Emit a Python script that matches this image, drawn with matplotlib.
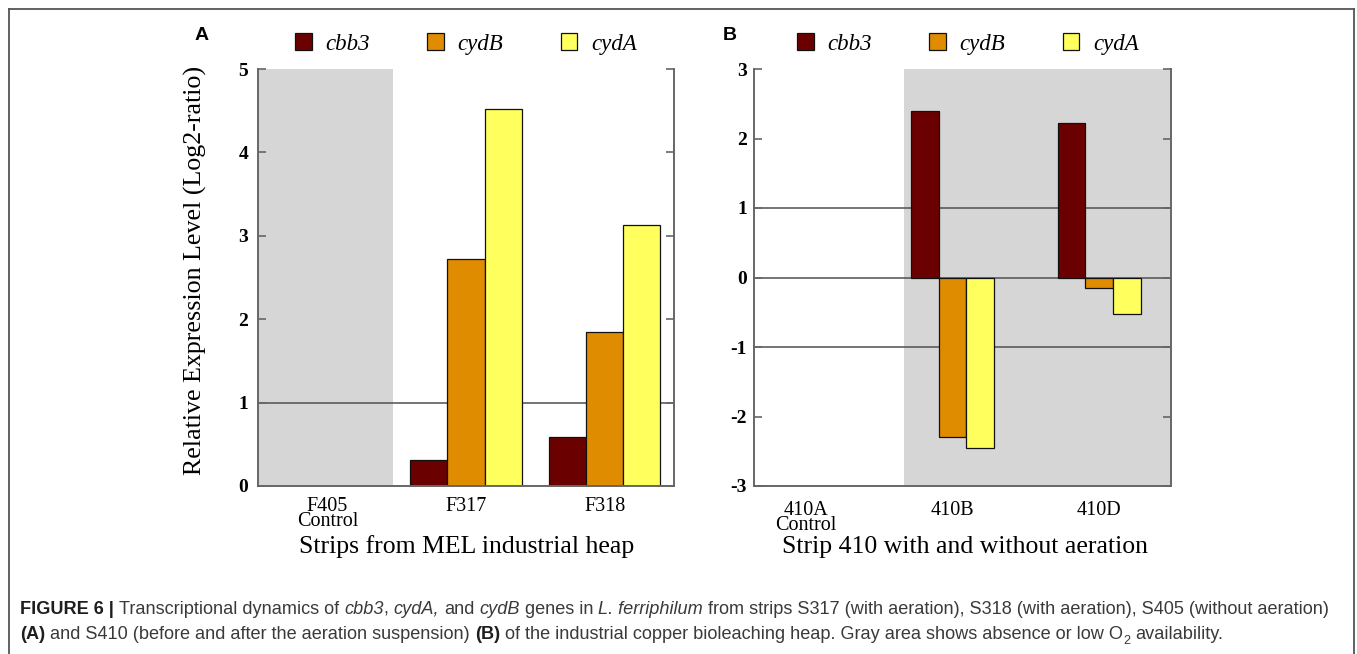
import numpy as np
import matplotlib
matplotlib.use("Agg")
import matplotlib.pyplot as plt
from matplotlib import font_manager
from matplotlib.lines import Line2D

# ---------------- data ----------------
genes = ["cbb3", "cydB", "cydA"]
colors = ["#6b0000", "#e08c00", "#ffff5e"]

cats_A = ["F405\nControl", "F317", "F318"]
cbb3_A = [np.nan, 0.31, 0.59]
cydB_A = [np.nan, 2.72, 1.85]
cydA_A = [np.nan, 4.52, 3.13]
yticks_A = [0, 1, 2, 3, 4, 5]

cats_B = ["410A\nControl", "410B", "410D"]
cbb3_B = [np.nan, 2.40, 2.23]
cydB_B = [np.nan, -2.29, -0.15]
cydA_B = [np.nan, -2.45, -0.52]
yticks_B = [-3, -2, -1, 0, 1, 2, 3]

xlabel_A = "Strips from MEL industrial heap"
xlabel_B = "Strip 410 with and without aeration"
ylabel = "Relative Expression Level (Log2-ratio)"

SERIF = "Liberation Serif"
available = {f.name for f in font_manager.fontManager.ttflist}
CAP_FONT = "Liberation Sans Narrow" if "Liberation Sans Narrow" in available else "Liberation Sans"

W, H = 1357, 654
fig = plt.figure(figsize=(W / 100, H / 100), dpi=100)


def fx(px):
    return px / W


def fy(py):
    return 1 - py / H


axA = fig.add_axes([fx(258), fy(486), fx(674) - fx(258), fy(69) - fy(486)])
axB = fig.add_axes([fx(754), fy(486), fx(1171) - fx(754), fy(69) - fy(486)])

SPINE = "#666666"


def panel(ax, cats, series, width, ylim, yticks, gray_span, hlines, xlim, xpad, ypad):
    x = np.arange(len(cats))
    ax.set_xlim(*xlim)
    ax.set_ylim(*ylim)
    ax.axvspan(gray_span[0], gray_span[1], color="#d6d6d6", zorder=0, lw=0)
    for h in hlines:
        ax.axhline(h, color="#505050", lw=1.1, zorder=1)
    handles = []
    for i, (vals, c, g) in enumerate(zip(series, colors, genes)):
        b = ax.bar(x + (i - 1) * width, vals, width, color=c, edgecolor="#111111",
                   lw=0.9, zorder=2, label=g)
        handles.append(b)
    ax.spines["top"].set_visible(False)
    for s in ["left", "right", "bottom"]:
        ax.spines[s].set_color(SPINE)
        ax.spines[s].set_linewidth(1.4)
    ax.set_yticks(yticks)
    ax.set_yticklabels([str(t) for t in yticks], fontfamily=SERIF, fontweight="bold",
                       fontsize=14)
    ax.tick_params(axis="y", direction="in", length=6, width=1.2, color=SPINE,
                   right=True, labelright=False, pad=ypad)
    ax.set_xticks(x)
    ax.set_xticklabels(cats, fontfamily=SERIF, fontsize=14.5, linespacing=0.7)
    ax.tick_params(axis="x", length=0, pad=xpad)
    return handles


hA = panel(axA, cats_A, [cbb3_A, cydB_A, cydA_A], 0.267, (0, 5), yticks_A,
           (-0.5, 0.47), [1], (-0.5, 2.5), 8, 7)
hB = panel(axB, cats_B, [cbb3_B, cydB_B, cydA_B], 0.189, (-3, 3), yticks_B,
           (0.669, 2.49), [1, 0, -1], (-0.355, 2.49), 11, 5)

for handles, cx in [(hA, 466), (hB, 968)]:
    fig.legend(handles, genes, loc="center", bbox_to_anchor=(fx(cx), fy(44)), ncol=3,
               frameon=False, prop=dict(family=SERIF, style="italic", size=16.5),
               handlelength=0.72, handleheight=0.72, handletextpad=0.6,
               columnspacing=2.5, borderaxespad=0, borderpad=0)

# panel letters
fig.text(fx(202), fy(36), "A", family="Liberation Sans", weight="bold", fontsize=14,
         ha="center", va="center")
fig.text(fx(730), fy(36), "B", family="Liberation Sans", weight="bold", fontsize=14,
         ha="center", va="center")

# axis labels
fig.text(fx(195), fy(270), ylabel, rotation=90, family=SERIF, fontsize=18.7,
         ha="center", va="center")
fig.text(fx(467), fy(547), xlabel_A, family=SERIF, fontsize=18.5, ha="center", va="center")
fig.text(fx(965), fy(547), xlabel_B, family=SERIF, fontsize=18.5, ha="center", va="center")

# ---------------- caption ----------------
renderer = fig.canvas.get_renderer()
SP = None
line1 = [("FIGURE 6 |", "bold"), SP, ("Transcriptional dynamics of", "normal"), SP,
         ("cbb3", "italic"), (",", "normal"), SP, ("cydA,", "italic"), SP,
         ("and", "normal"), SP, ("cydB", "italic"), SP, ("genes in", "normal"), SP,
         ("L. ferriphilum", "italic"), SP,
         ("from strips S317 (with aeration), S318 (with aeration), S405 (without aeration)",
          "normal")]
line2 = [("(A)", "bold"), SP,
         ("and S410 (before and after the aeration suspension)", "normal"), SP,
         ("(B)", "bold"), SP,
         ("of the industrial copper bioleaching heap. Gray area shows absence or low O",
          "normal"), ("2", "sub"), SP, ("availability.", "normal")]


def draw_runs(runs, x0, ybase, size):
    arts = []
    x = x0
    tmp1 = fig.text(0, 0, "x x", family=CAP_FONT, fontsize=size)
    tmp2 = fig.text(0, 0, "xx", family=CAP_FONT, fontsize=size)
    space = (tmp1.get_window_extent(renderer).width - tmp2.get_window_extent(renderer).width)
    tmp1.remove()
    tmp2.remove()
    for r in runs:
        if r is None:
            x += space
            continue
        txt, st = r
        kw = dict(family=CAP_FONT, fontsize=size, color="#3a3a3a", va="baseline", ha="left")
        y = ybase
        if st == "bold":
            kw.update(weight="bold", color="#1e1e1e")
        elif st == "italic":
            kw.update(style="italic")
        elif st == "sub":
            kw.update(fontsize=size * 0.7)
            y = ybase + size * 0.3 * 100 / 72
        t = fig.text(fx(x), fy(y), txt, **kw)
        arts.append(t)
        x += t.get_window_extent(renderer).width
    return arts, x


arts, xend = draw_runs(line1, 20, 614, 12)
for a in arts:
    a.remove()
size = 12 * (1330 - 20) / (xend - 20)
draw_runs(line1, 20, 614, size)
draw_runs(line2, 20, 639, size)

# figure frame
for xs, ys in [([8.5, 8.5], [-5, 9]), ([8.5, 1353.5], [9, 9]), ([1353.5, 1353.5], [9, -5])]:
    fig.add_artist(Line2D([fx(v) for v in xs], [fy(H + 5) if v == -5 else fy(v) for v in ys],
                          color="#555555", lw=1.3))

fig.savefig("out.png", dpi=100)
